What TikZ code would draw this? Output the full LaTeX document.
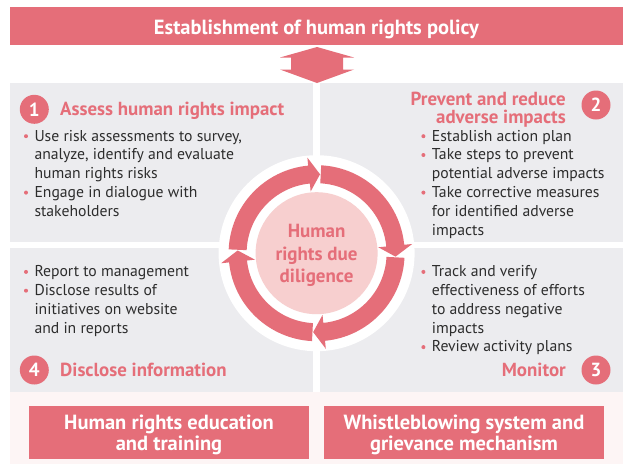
\documentclass[tikz,border=0pt]{standalone}
\usepackage{fontspec}
\setmainfont{PT Sans}
\definecolor{hr}{RGB}{229,110,121}
\definecolor{hrlight}{RGB}{247,207,207}
\definecolor{panel}{RGB}{236,236,239}
\definecolor{bottombg}{RGB}{253,245,245}
\definecolor{txt}{RGB}{45,45,45}
\tikzset{
  bar/.style={rectangle, fill=hr, inner sep=0pt, draw=none},
  bartxt/.style={anchor=base, inner sep=0pt, text=white, font=\bfseries\fontsize{20.5}{23}\selectfont},
  bodytxt/.style={anchor=base west, inner sep=0pt, text=txt, font=\fontsize{15.7}{18}\selectfont},
  headw/.style={anchor=base west, inner sep=0pt, text=hr, font=\bfseries\fontsize{18.9}{21}\selectfont},
  heade/.style={anchor=base east, inner sep=0pt, text=hr, font=\bfseries\fontsize{18.9}{21}\selectfont},
  numc/.style={circle, fill=hr, minimum size=29pt, inner sep=0pt, text=white, font=\bfseries\fontsize{19}{21}\selectfont},
  centtxt/.style={anchor=base, inner sep=0pt, text=hr, font=\bfseries\fontsize{19}{21}\selectfont}
}
\newcommand\bul[4]{%
  \fill[hr] (#2-8.3,#3-4.8) circle[radius=2];
  \node[bodytxt] (#1) at (#2,#3) {#4};}
\newcommand\cont[4]{\node[bodytxt] (#1) at (#2,#3) {#4};}
\newcommand\ringarrow[2]{%
  \fill[hr] ([shift={(ctr)}]#1:88) arc[start angle=#1, end angle=#2-8, radius=88]
   -- ([shift={(ctr)}]#2-8:96) -- ([shift={(ctr)}]#2:79) -- ([shift={(ctr)}]#2-8:62)
   -- ([shift={(ctr)}]#2-8:70) arc[start angle=#2-8, end angle=#1, radius=70] -- cycle;}
\begin{document}
\begin{tikzpicture}[x=1pt,y=-1pt]
\useasboundingbox (0,0) rectangle (624,464);
\fill[white] (0,0) rectangle (624,464);
% panels
\fill[panel] (10,83) rectangle (313.3,242);
\fill[panel] (319.5,83) rectangle (623,242);
\fill[panel] (10,248) rectangle (313.3,392);
\fill[panel] (319.5,248) rectangle (623,392);
\fill[bottombg] (10,392) rectangle (623,464);
% top bar
\node[bar, minimum width=613pt, minimum height=38.3pt] (policy) at (316.5,25.8) {};
\node[bartxt] (policyT) at (316.5,34) {Establishment of human rights policy};
% double arrow
\coordinate (da) at (317,65);
\fill[hr] ([shift={(da)}]0,-18) -- ([shift={(da)}]37,-7.5) -- ([shift={(da)}]26,-7.5) -- ([shift={(da)}]26,4.5)
  -- ([shift={(da)}]37,4.5) -- ([shift={(da)}]0,18) -- ([shift={(da)}]-37,4.5) -- ([shift={(da)}]-26,4.5)
  -- ([shift={(da)}]-26,-7.5) -- ([shift={(da)}]-37,-7.5) -- cycle;
% cycle
\coordinate (ctr) at (316.6,253.2);
\fill[white] (ctr) circle[radius=98];
\ringarrow{182.5}{272.5}
\ringarrow{273}{362.5}
\ringarrow{3}{92.5}
\ringarrow{93}{182}
\fill[hrlight] (ctr) circle[radius=61];
\node[centtxt] (c1) at (316.6,237.7) {Human};
\node[centtxt] (c2) at (316.6,260.2) {rights due};
\node[centtxt] (c3) at (316.6,282.7) {diligence};
% quadrant 1
\node[numc] (n1) at (34.3,109.3) {1};
\node[headw] (h1) at (60,115) {Assess human rights impact};
\bul{a1}{34.3}{141}{Use risk assessments to survey,}
\cont{a2}{34.3}{159.8}{analyze, identify and evaluate}
\cont{a3}{34.3}{178.6}{human rights risks}
\bul{a4}{34.3}{197.4}{Engage in dialogue with}
\cont{a5}{34.3}{216.2}{stakeholders}
% quadrant 2
\node[numc] (n2) at (596,105) {2};
\node[heade] (h2a) at (566,105) {Prevent and reduce};
\node[heade] (h2b) at (566,123) {adverse impacts};
\bul{b1}{431.7}{141}{Establish action plan}
\bul{b2}{431.7}{159.8}{Take steps to prevent}
\cont{b3}{431.7}{178.6}{potential adverse impacts}
\bul{b4}{431.7}{197.4}{Take corrective measures}
\cont{b5}{431.7}{216.2}{for identified adverse}
\cont{b6}{431.7}{235}{impacts}
% quadrant 4
\bul{d1}{34.3}{276.7}{Report to management}
\bul{d2}{34.3}{295.5}{Disclose results of}
\cont{d3}{34.3}{314.3}{initiatives on website}
\cont{d4}{34.3}{333.1}{and in reports}
\node[numc] (n4) at (34.3,370) {4};
\node[headw] (h4) at (60,376.7) {Disclose information};
% quadrant 3
\bul{m1}{431.7}{276.7}{Track and verify}
\cont{m2}{431.7}{295.5}{effectiveness of efforts}
\cont{m3}{431.7}{314.3}{to address negative}
\cont{m4}{431.7}{333.1}{impacts}
\bul{m5}{431.7}{351.9}{Review activity plans}
\node[numc] (n3) at (596,370) {3};
\node[heade] (h3) at (566,376.7) {Monitor};
% bottom boxes
\node[bar, minimum width=280pt, minimum height=52.7pt] (edu) at (169,432.7) {};
\node[bartxt] (eduT1) at (169,429) {Human rights education};
\node[bartxt] (eduT2) at (169,450.7) {and training};
\node[bar, minimum width=280pt, minimum height=52.7pt] (wb) at (464,432.7) {};
\node[bartxt] (wbT1) at (464,429) {Whistleblowing system and};
\node[bartxt] (wbT2) at (464,450.7) {grievance mechanism};
\end{tikzpicture}
\end{document}
